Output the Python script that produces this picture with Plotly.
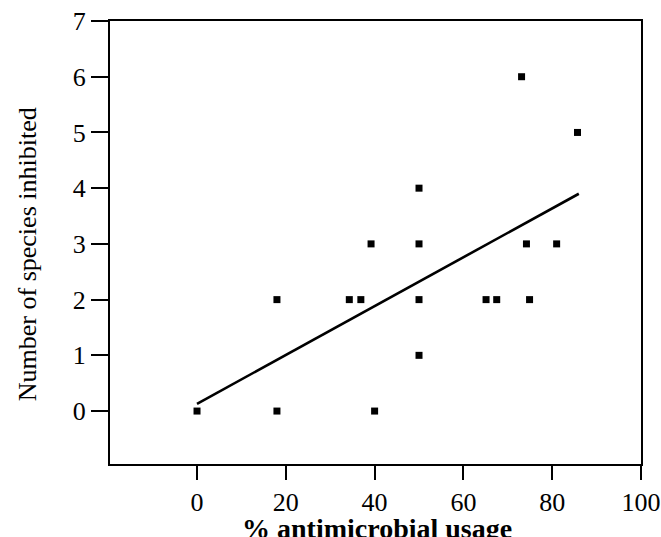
import plotly.graph_objects as go

# Data
usage_pct = [0, 18, 18, 40, 34.3, 36.9, 39.2, 50, 50, 50, 50, 65.1, 67.5, 73.1, 74.2, 74.9, 81, 85.7]
species_inhibited = [0, 0, 2, 0, 2, 2, 3, 4, 3, 2, 1, 2, 2, 6, 3, 2, 3, 5]

# Regression line end points (as drawn)
fit_x = [0, 86]
fit_y = [0.13, 3.9]

x_ticks = [0, 20, 40, 60, 80, 100]
y_ticks = [0, 1, 2, 3, 4, 5, 6, 7]

FONT = "Liberation Serif"

fig = go.Figure()
fig.add_trace(go.Scatter(
    x=fit_x, y=fit_y, mode="lines",
    line=dict(color="black", width=2.6),
    showlegend=False, hoverinfo="skip",
))
fig.add_trace(go.Scatter(
    x=usage_pct, y=species_inhibited, mode="markers",
    marker=dict(symbol="square", size=7, color="black"),
    showlegend=False,
))

axis_common = dict(
    showline=True, linecolor="black", linewidth=2, mirror=True,
    ticks="outside", tickcolor="black", tickwidth=2,
    showgrid=False, zeroline=False, automargin=False,
    ticklabeloverflow="allow",
    tickfont=dict(family=FONT, size=26, color="black"),
)

fig.update_layout(
    width=661, height=537,
    margin=dict(l=110, r=20, t=21, b=73),
    paper_bgcolor="white", plot_bgcolor="white",
    xaxis=dict(range=[-19.6, 100], tickvals=x_ticks, ticklen=14, **axis_common),
    yaxis=dict(range=[-0.95, 7], tickvals=y_ticks, ticklen=17, **axis_common),
    annotations=[
        dict(text="<b>% antimicrobial usage</b>", xref="paper", yref="paper",
             x=0.503, y=-0.145, xanchor="center", yanchor="middle", showarrow=False,
             font=dict(family=FONT, size=28, color="black")),
        dict(text="Number of species inhibited", xref="paper", yref="paper",
             x=-0.156, y=0.474, xanchor="center", yanchor="middle", showarrow=False,
             textangle=-90,
             font=dict(family=FONT, size=26, color="black")),
    ],
)

fig.write_html(
    "out.html",
    config={"displayModeBar": False},
    post_script="document.body.style.margin='0';document.body.style.overflow='hidden';",
)
